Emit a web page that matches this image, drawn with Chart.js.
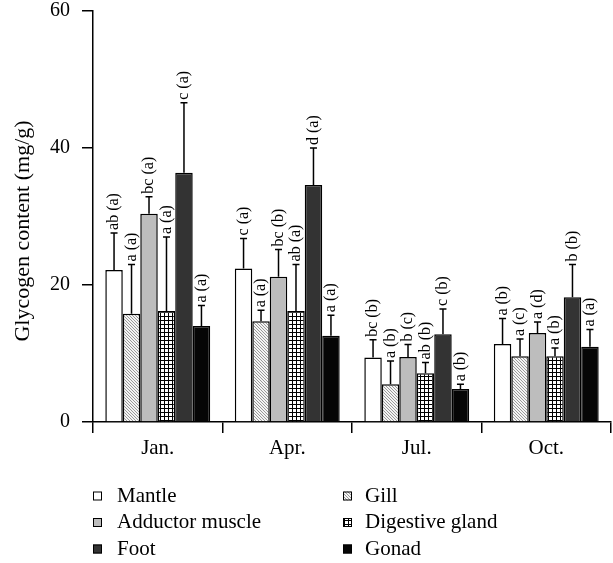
<!DOCTYPE html>
<html>
<head>
<meta charset="utf-8">
<script src="https://cdn.jsdelivr.net/npm/chart.js@4.4.1/dist/chart.umd.min.js"></script>
<style>
  html, body { margin: 0; padding: 0; background: #fff; }
  #wrap { width: 613px; height: 563px; }
</style>
</head>
<body>
<div id="wrap"><canvas id="myChart" width="613" height="563"></canvas></div>
<script>
const months = ["Jan.", "Apr.", "Jul.", "Oct."];
const tissues = ["Mantle", "Gill", "Adductor muscle", "Digestive gland", "Foot", "Gonad"];
const yTicks = [0, 20, 40, 60];
const yTitle = "Glycogen content (mg/g)";

// mean values (mg/g)
const mantleMean = [22.2, 22.4, 9.4, 11.4];
const gillMean = [15.8, 14.7, 5.5, 9.6];
const adductorMean = [30.4, 21.2, 9.5, 13.0];
const digestiveMean = [16.2, 16.2, 7.1, 9.6];
const footMean = [36.4, 34.6, 12.8, 18.2];
const gonadMean = [14.0, 12.6, 4.8, 11.0];

// standard deviations
const mantleSd = [5.4, 4.4, 2.6, 3.7];
const gillSd = [7.2, 1.6, 3.4, 2.5];
const adductorSd = [2.5, 4.0, 1.8, 1.6];
const digestiveSd = [10.8, 6.8, 1.6, 1.2];
const footSd = [10.2, 5.4, 3.7, 4.8];
const gonadSd = [3.0, 3.0, 0.7, 2.5];

// significance letters
const mantleSig = ["ab (a)", "c (a)", "bc (b)", "a (b)"];
const gillSig = ["a (a)", "a (a)", "a (b)", "a (c)"];
const adductorSig = ["bc (a)", "bc (b)", "b (c)", "a (d)"];
const digestiveSig = ["a (a)", "ab (a)", "ab (b)", "a (b)"];
const footSig = ["c (a)", "d (a)", "c (b)", "b (b)"];
const gonadSig = ["a (a)", "a (a)", "a (b)", "a (a)"];

const FONT = "'Liberation Serif', 'Times New Roman', serif";

function hatchPattern() {
  const c = document.createElement("canvas");
  c.width = 3; c.height = 3;
  const g = c.getContext("2d");
  g.fillStyle = "#f4f4f4";
  g.fillRect(0, 0, 3, 3);
  g.fillStyle = "#999999";
  g.fillRect(0, 0, 1, 1);
  g.fillRect(1, 1, 1, 1);
  g.fillRect(2, 2, 1, 1);
  return g.createPattern(c, "repeat");
}

function gridPattern() {
  const c = document.createElement("canvas");
  c.width = 4; c.height = 4;
  const g = c.getContext("2d");
  g.fillStyle = "#ffffff";
  g.fillRect(0, 0, 4, 4);
  g.fillStyle = "#000000";
  g.fillRect(0, 0, 4, 1);
  g.fillRect(0, 0, 1, 4);
  return g.createPattern(c, "repeat");
}

const fills = ["#ffffff", hatchPattern(), "#bdbdbd", gridPattern(), "#333333", "#060606"];
const means = [mantleMean, gillMean, adductorMean, digestiveMean, footMean, gonadMean];
const sds = [mantleSd, gillSd, adductorSd, digestiveSd, footSd, gonadSd];
const sigs = [mantleSig, gillSig, adductorSig, digestiveSig, footSig, gonadSig];

const errorBars = {
  id: "errorBars",
  afterDatasetsDraw(chart) {
    const ctx = chart.ctx;
    const y = chart.scales.y;
    ctx.save();
    ctx.strokeStyle = "#000";
    ctx.lineWidth = 1.5;
    chart.data.datasets.forEach((ds, i) => {
      const meta = chart.getDatasetMeta(i);
      meta.data.forEach((bar, j) => {
        const top = y.getPixelForValue(ds.data[j] + ds.sd[j]);
        ctx.beginPath();
        ctx.moveTo(bar.x, bar.y);
        ctx.lineTo(bar.x, top);
        ctx.moveTo(bar.x - 3.5, top);
        ctx.lineTo(bar.x + 3.5, top);
        ctx.stroke();

        ctx.save();
        ctx.translate(bar.x, top - 3);
        ctx.rotate(-Math.PI / 2);
        ctx.font = "16px " + FONT;
        ctx.fillStyle = "#000";
        ctx.textAlign = "left";
        ctx.textBaseline = "middle";
        ctx.fillText(ds.sig[j], 0, 0);
        ctx.restore();
      });
    });
    ctx.restore();
  },
};

const legendBox = {
  id: "legendBox",
  afterDraw(chart) {
    const ctx = chart.ctx;
    ctx.save();
    chart.data.datasets.forEach((ds, i) => {
      const col = i % 2;
      const row = Math.floor(i / 2);
      const mx = col ? 343 : 93;
      const tx = col ? 365 : 117;
      const cy = 496 + row * 26.5;
      ctx.fillStyle = ds.backgroundColor;
      ctx.fillRect(mx, cy - 4.5, 9, 9);
      ctx.strokeStyle = "#000";
      ctx.lineWidth = 1;
      ctx.strokeRect(mx + 0.5, cy - 4, 8, 8);
      ctx.fillStyle = "#000";
      ctx.font = "21px " + FONT;
      ctx.textBaseline = "middle";
      ctx.fillText(ds.label, tx, cy);
    });

    // y axis title
    ctx.save();
    ctx.translate(23, 231);
    ctx.rotate(-Math.PI / 2);
    ctx.font = "22px " + FONT;
    ctx.fillStyle = "#000";
    ctx.textAlign = "center";
    ctx.textBaseline = "middle";
    ctx.fillText(yTitle, 0, 0);
    ctx.restore();
    ctx.restore();
  },
};

new Chart(document.getElementById("myChart"), {
  type: "bar",
  data: {
    labels: months,
    datasets: tissues.map((t, i) => ({
      label: t,
      data: means[i],
      sd: sds[i],
      sig: sigs[i],
      backgroundColor: fills[i],
      borderColor: "#000",
      borderWidth: 1.5,
      categoryPercentage: 0.81,
      barPercentage: 1.0,
    })),
  },
  options: {
    responsive: false,
    animation: false,
    layout: { padding: { top: 11, right: 2, bottom: 101, left: 0 } },
    plugins: {
      legend: { display: false },
      tooltip: { enabled: false },
    },
    scales: {
      x: {
        afterFit: (s) => { s.height = 40; s.paddingLeft = 0; s.paddingRight = 0; },
        grid: {
          offset: true,
          drawOnChartArea: false,
          color: "#000",
          lineWidth: 1.5,
          tickLength: 11,
        },
        border: { color: "#000", width: 1.5 },
        ticks: {
          color: "#000",
          padding: 3,
          font: { family: FONT, size: 21 },
        },
      },
      y: {
        min: 0,
        max: 60,
        afterFit: (s) => { s.width = 93; s.paddingTop = 0; s.paddingBottom = 0; },
        afterBuildTicks: (s) => { s.ticks = yTicks.map((v) => ({ value: v })); },
        grid: {
          drawOnChartArea: false,
          color: "#000",
          lineWidth: 1.5,
          tickLength: 11,
        },
        border: { color: "#000", width: 1.5 },
        ticks: {
          color: "#000",
          padding: 12,
          font: { family: FONT, size: 20 },
        },
      },
    },
  },
  plugins: [errorBars, legendBox],
});
</script>
</body>
</html>
